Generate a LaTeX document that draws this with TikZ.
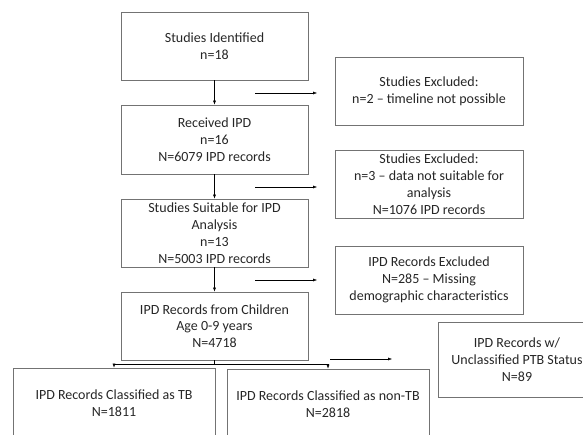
\documentclass[tikz,border=0pt]{standalone}
\usepackage{fontspec}
\setmainfont{Carlito}
\usetikzlibrary{arrows.meta}
\begin{document}
\begin{tikzpicture}[x=1pt,y=-1pt,
	box/.style={draw=black!55,line width=0.8pt,align=center,text=black!85,inner sep=2pt,
		font=\fontsize{14}{16.8}\selectfont},
	>={Latex[length=4pt,width=3pt]}]
	\clip (0,0) rectangle (583,435);
	\node[box,minimum width=187pt,minimum height=68pt] (ident) at (214.5,46) {Studies Identified\\n=18};
	\node[box,minimum width=187pt,minimum height=69pt] (recv) at (214.5,139.5) {Received IPD\\n=16\\N=6079 IPD records};
	\node[box,minimum width=187pt,minimum height=68pt] (suit) at (214.5,233) {Studies Suitable for IPD\\Analysis\\n=13\\N=5003 IPD records};
	\node[box,minimum width=187pt,minimum height=68pt] (child) at (214.5,326) {IPD Records from Children\\Age 0-9 years\\N=4718};
	\node[box,minimum width=188pt,minimum height=68pt] (exa) at (429,91) {Studies Excluded:\\n=2 -- timeline not possible};
	\node[box,minimum width=188pt,minimum height=68pt] (exb) at (429,184) {Studies Excluded:\\n=3 -- data not suitable for\\analysis\\N=1076 IPD records};
	\node[box,minimum width=188pt,minimum height=68pt] (exc) at (429,280) {IPD Records Excluded\\N=285 -- Missing\\demographic characteristics};
	\node[box,minimum width=158pt,minimum height=75pt] (uncl) at (517,359.5) {IPD Records w/\\Unclassified PTB Status\\N=89};
	\node[box,minimum width=202pt,minimum height=70pt] (tb) at (114,403) {IPD Records Classified as TB\\N=1811};
	\node[box,minimum width=202pt,minimum height=70pt] (ntb) at (328,404) {IPD Records Classified as non-TB\\N=2818};
	\draw[->] (ident) -- (recv);
	\draw[->] (recv) -- (suit);
	\draw[->] (suit) -- (child);
	\draw[->] (255,93) -- (317,93);
	\draw[->] (255,187) -- (317,187);
	\draw[->] (255,280) -- (317,280);
	\coordinate (split) at (214.5,364);
	\draw (child.south) -- (split);
	\draw[->] (split) -| (tb.north);
	\draw[->] (split) -| (ntb.north);
	\draw[->] (330,359) -- (392,359);
\end{tikzpicture}
\end{document}
